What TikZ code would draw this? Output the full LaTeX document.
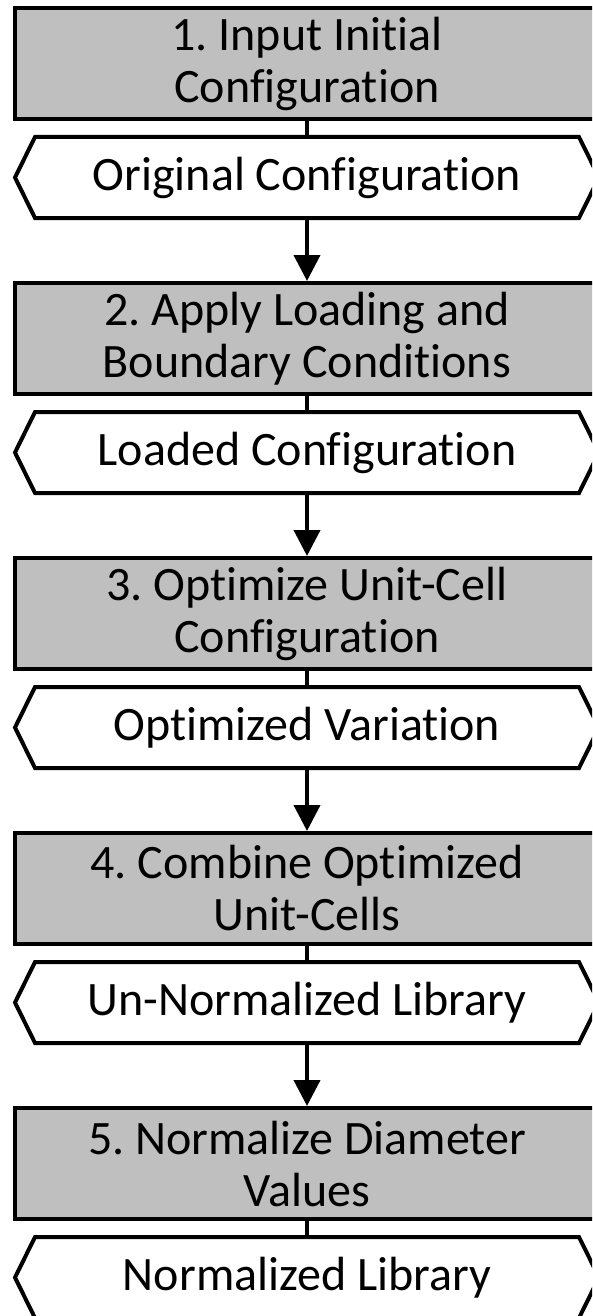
\documentclass[tikz,border=0pt]{standalone}
\usepackage{fontspec}
\setmainfont[Ligatures=NoCommon]{Carlito}
\frenchspacing
\usetikzlibrary{arrows.meta,calc}
\definecolor{stepgray}{RGB}{191,191,191}
\tikzset{
  stepbox/.style={draw=black, fill=stepgray, line width=4pt, rectangle,
    minimum width=584pt, minimum height=111pt, inner sep=0pt, align=center,
    font=\fontsize{48}{52}\selectfont},
  datanode/.style={rectangle, minimum width=584pt, minimum height=81pt,
    inner sep=0pt, outer sep=0pt, align=center,
    font=\fontsize{48}{52}\selectfont},
  hexline/.style={draw=black, fill=white, line width=4pt, line join=miter},
  link/.style={line width=4pt},
  flow/.style={line width=4pt, -{Triangle[width=26pt,length=26pt]}},
}
% outline of a data node: a hexagon pointing left and right
\newcommand{\hexoutline}[1]{%
  \path[hexline] (#1.west) -- ($(#1.north west)+(20pt,0)$)
    -- ($(#1.north east)+(-20pt,0)$) -- (#1.east)
    -- ($(#1.south east)+(-20pt,0)$) -- ($(#1.south west)+(20pt,0)$) -- cycle;}
\begin{document}
\begin{tikzpicture}[x=1pt, y=-1pt]
  \useasboundingbox (0,0) rectangle (592,1316);
  \fill[white] (0,0) rectangle (592,1316);
  \clip (0,0) rectangle (592,1316);

  % process steps
  \node[stepbox] (b1) at (307,63.5)  {1. Input Initial\\Configuration};
  \node[stepbox] (b2) at (307,338.5) {2. Apply Loading and\\Boundary Conditions};
  \node[stepbox] (b3) at (307,613.5) {3. Optimize Unit-Cell\\Configuration};
  \node[stepbox] (b4) at (307,888.5) {4. Combine Optimized\\Unit-Cells};
  \node[stepbox] (b5) at (307,1163.5) {5. Normalize Diameter\\Values};

  % data produced by each step
  \node[datanode] (h1) at (307,177.5)  {};
  \node[datanode] (h2) at (307,452.5)  {};
  \node[datanode] (h3) at (307,727.5)  {};
  \node[datanode] (h4) at (307,1002.5) {};
  \node[datanode] (h5) at (307,1277.5) {};

  % links from each step to its output
  \draw[link] (b1.south) -- (h1.north);
  \draw[link] (b2.south) -- (h2.north);
  \draw[link] (b3.south) -- (h3.north);
  \draw[link] (b4.south) -- (h4.north);
  \draw[link] (b5.south) -- (h5.north);

  \hexoutline{h1}
  \hexoutline{h2}
  \hexoutline{h3}
  \hexoutline{h4}
  \hexoutline{h5}

  \node[datanode] at (h1) {Original Configuration};
  \node[datanode] at (h2) {Loaded Configuration};
  \node[datanode] at (h3) {Optimized Variation};
  \node[datanode] at (h4) {Un-Normalized Library};
  \node[datanode] at (h5) {Normalized Library};

  % flow into the next step
  \draw[flow] (h1.south) -- (b2.north);
  \draw[flow] (h2.south) -- (b3.north);
  \draw[flow] (h3.south) -- (b4.north);
  \draw[flow] (h4.south) -- (b5.north);
\end{tikzpicture}
\end{document}
